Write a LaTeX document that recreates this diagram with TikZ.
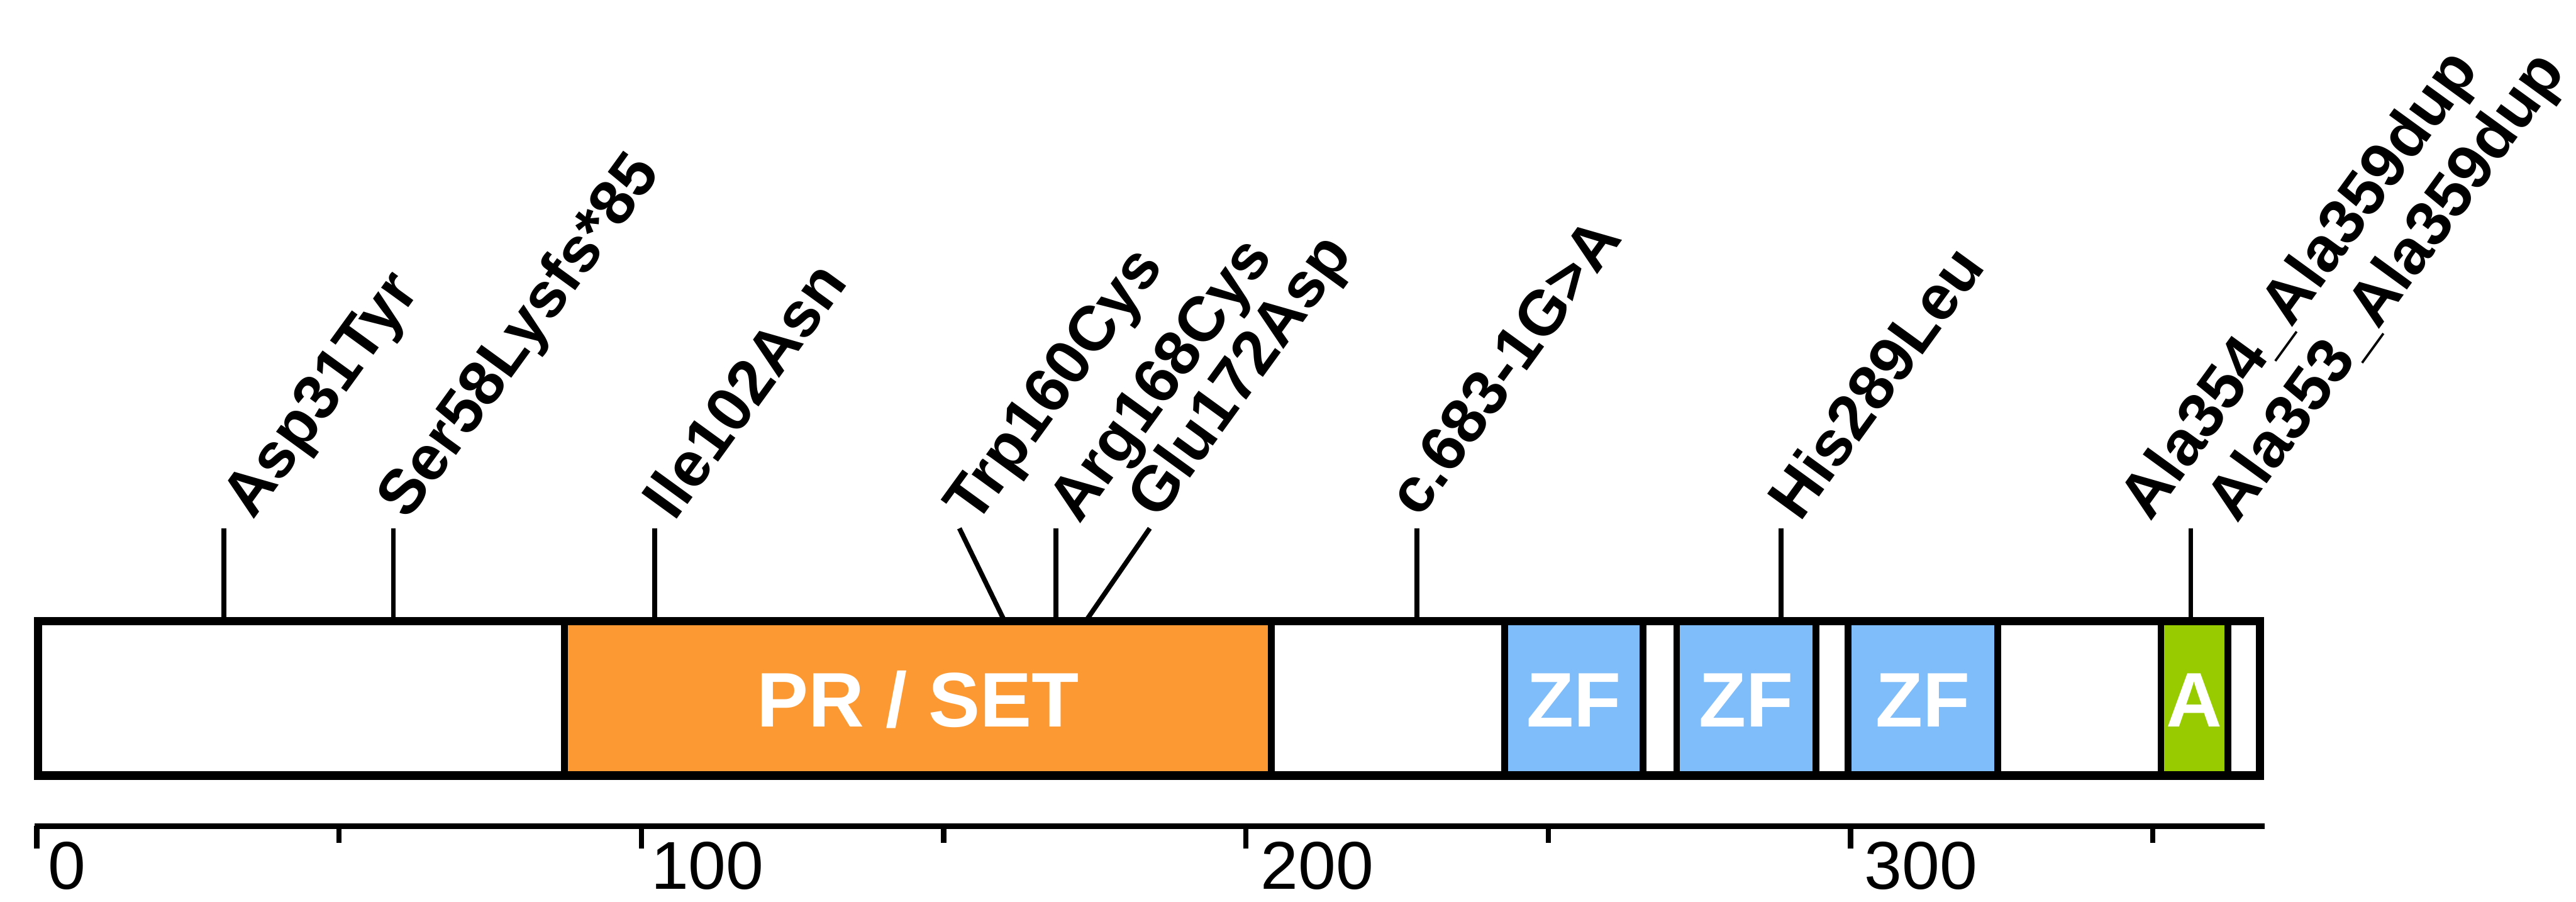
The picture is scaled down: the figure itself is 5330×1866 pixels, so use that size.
\documentclass[tikz,border=0pt]{standalone}
\usepackage{fontspec}
\setmainfont{Liberation Sans}
\definecolor{prset}{RGB}{252,153,51}
\definecolor{zfblue}{RGB}{127,189,250}
\definecolor{acid}{RGB}{153,204,0}
\begin{document}
\begin{tikzpicture}[x=0.1pt,y=-0.1pt,
  mutlabel/.style={rotate=54,anchor=base west,inner sep=0pt,font=\fontsize{13.1pt}{15pt}\selectfont\bfseries},
  domlabel/.style={anchor=base,inner sep=0pt,text=white,font=\fontsize{16pt}{18pt}\selectfont\bfseries},
  ticklabel/.style={anchor=base west,inner sep=0pt,font=\fontsize{14pt}{16pt}\selectfont},
  domainbox/.style={draw=black,line width=1.4pt},
  barline/.style={draw=black,line width=1.7pt},
  mutline/.style={draw=black,line width=1pt},
  axisline/.style={draw=black,line width=1.2pt},
  tickline/.style={draw=black,line width=1.1pt}]
\useasboundingbox (0,0) rectangle (5330,1866);

% protein bar background
\fill[white] (78.5,1285.5) rectangle (4675.5,1604.5);
% domains
\draw[domainbox,fill=prset] (1168,1285.5) rectangle (2630,1604.5);
\draw[domainbox,fill=zfblue] (3113,1285.5) rectangle (3400,1604.5);
\draw[domainbox,fill=zfblue] (3469,1285.5) rectangle (3757,1604.5);
\draw[domainbox,fill=zfblue] (3824,1285.5) rectangle (4133,1604.5);
\draw[domainbox,fill=acid] (4471,1285.5) rectangle (4610,1604.5);
% bar outline
\draw[barline] (78.5,1285.5) rectangle (4675.5,1604.5);

% domain labels
\node[domlabel] (dPR) at (1899,1503) {PR / SET};
\node[domlabel] (dZF1) at (3256.5,1503) {ZF};
\node[domlabel] (dZF2) at (3613,1503) {ZF};
\node[domlabel] (dZF3) at (3978.5,1503) {ZF};
\node[domlabel] (dA) at (4540.5,1503) {A};

% mutation connectors
\coordinate (t31) at (463,1093);   \coordinate (b31) at (463,1280);
\coordinate (t58) at (814,1093);   \coordinate (b58) at (814,1280);
\coordinate (t102) at (1355,1093); \coordinate (b102) at (1355,1280);
\coordinate (t160) at (1985,1093); \coordinate (b160) at (2076,1280);
\coordinate (t168) at (2185,1093); \coordinate (b168) at (2185,1280);
\coordinate (t172) at (2379,1093); \coordinate (b172) at (2250,1280);
\coordinate (t228) at (2932,1093); \coordinate (b228) at (2932,1280);
\coordinate (t289) at (3685,1093); \coordinate (b289) at (3685,1280);
\coordinate (t354) at (4533,1093); \coordinate (b354) at (4533,1280);
\foreach \m in {31,58,102,160,168,172,228,289,354}
  \draw[mutline] (t\m) -- (b\m);

% mutation labels
\node[mutlabel] (l31) at (523,1079) {Asp31Tyr};
\node[mutlabel] (l58) at (843,1080) {Ser58Lysfs*85};
\node[mutlabel] (l102) at (1395,1082) {Ile102Asn};
\node[mutlabel] (l160) at (2018,1090) {Trp160Cys};
\node[mutlabel] (l168) at (2232,1088) {Arg168Cys};
\node[mutlabel] (l172) at (2396,1080) {Glu172Asp};
\node[mutlabel] (l228) at (2936,1076) {c.683-1G>A};
\node[mutlabel] (l289) at (3724,1084) {His289Leu};
\node[mutlabel] (l354) at (4449,1082) {Ala354\_Ala359dup};
\node[mutlabel] (l353) at (4628,1086) {Ala353\_Ala359dup};

% axis
\coordinate (axL) at (72,1709);
\coordinate (axR) at (4686,1709);
\draw[axisline] (axL) -- (axR);
\foreach \x in {76,1327,2578,3829}
  \draw[tickline] (\x,1709) -- (\x,1755);
\foreach \x in {701.5,1952.5,3203.5,4454.5}
  \draw[tickline] (\x,1709) -- (\x,1744);
\node[ticklabel] (n0) at (97,1839) {0};
\node[ticklabel] (n100) at (1345,1839) {100};
\node[ticklabel] (n200) at (2607,1839) {200};
\node[ticklabel] (n300) at (3856,1839) {300};
\end{tikzpicture}
\end{document}
